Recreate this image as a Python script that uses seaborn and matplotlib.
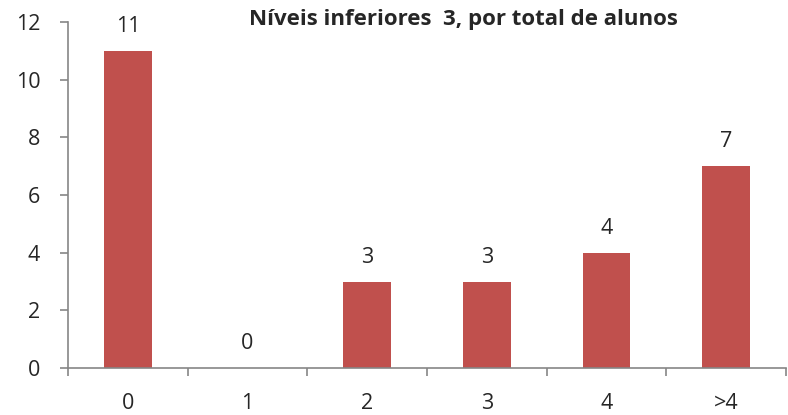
import numpy as np
import pandas as pd
import seaborn as sns
import matplotlib.pyplot as plt

# --- dados do gráfico ---
categorias = ['0', '1', '2', '3', '4', '>4']
valores = [11, 0, 3, 3, 4, 7]
titulo = 'Níveis inferiores  3, por total de alunos'

COR_BARRA = '#C0504D'
COR_EIXO = '#868686'


def main():
    sns.set_style('white')
    plt.rcParams['font.family'] = ['Open Sans', 'DejaVu Sans']

    df = pd.DataFrame({'categoria': categorias, 'valor': valores})

    fig = plt.figure(figsize=(7.88, 4.15), dpi=100)
    ax = fig.add_axes([68 / 788, 1 - 368 / 415, 718 / 788, 346 / 415])

    sns.barplot(data=df, x='categoria', y='valor', color=COR_BARRA,
                width=0.4, saturation=1, linewidth=0, ax=ax)

    ax.bar_label(ax.containers[0], fmt='%d', padding=10, fontsize=15.5)

    ax.set_xlim(-0.5, len(categorias) - 0.5)
    ax.set_ylim(0, 12)
    ax.set_yticks(range(0, 13, 2))
    ax.set_xlabel('')
    ax.set_ylabel('')

    # marcas do eixo x nas fronteiras das categorias
    ax.set_xticks(np.arange(-0.5, len(categorias), 1), minor=True)
    ax.tick_params(axis='x', which='major', length=0, pad=18, labelsize=15.5)
    ax.tick_params(axis='x', which='minor', length=6, width=1.2, color=COR_EIXO,
                   direction='out')
    ax.tick_params(axis='y', length=6, width=1.2, color=COR_EIXO,
                   direction='out', pad=14, labelsize=15.5)
    ax.tick_params(bottom=True, left=True, which='both')

    sns.despine(ax=ax)
    for lado in ['left', 'bottom']:
        ax.spines[lado].set_color(COR_EIXO)
        ax.spines[lado].set_linewidth(1.2)

    fig.text(463 / 788, 1 - 20 / 415, titulo, ha='center', va='center',
             fontsize=16, fontweight='bold')

    fig.savefig('out.png', dpi=100)


if __name__ == '__main__':
    main()
